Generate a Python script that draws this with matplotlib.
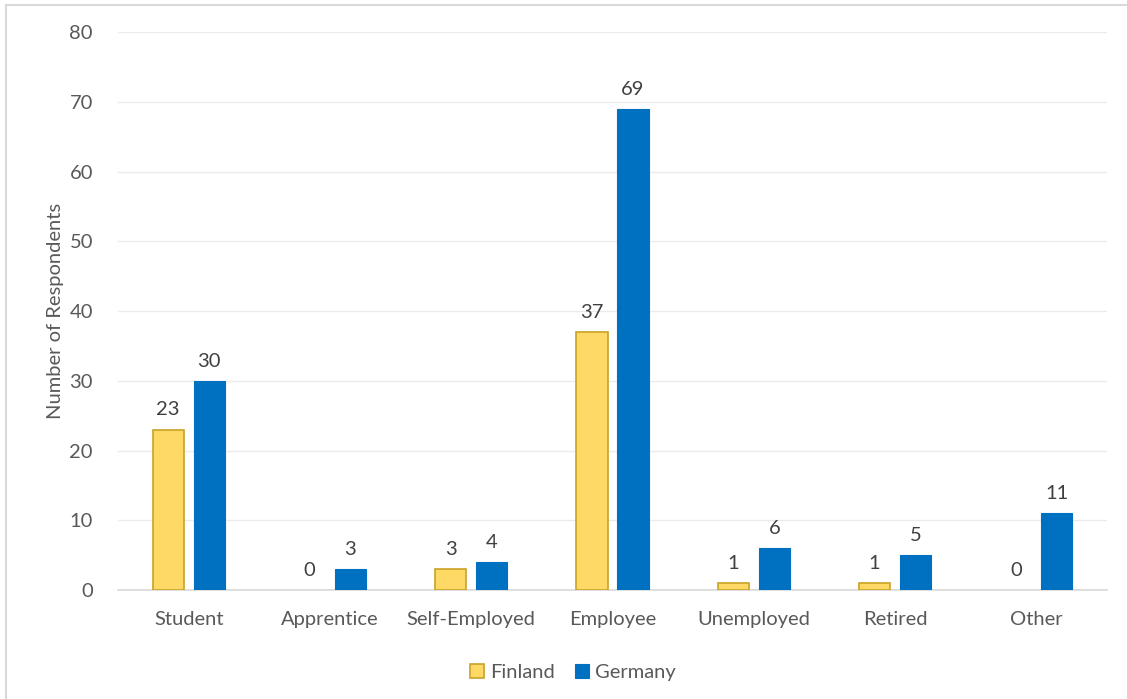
import numpy as np
import matplotlib

matplotlib.use('Agg')
import matplotlib.pyplot as plt
from matplotlib.lines import Line2D

# Respondents by occupation
categories = ['Student', 'Apprentice', 'Self-Employed', 'Employee',
              'Unemployed', 'Retired', 'Other']
finland = [23, 0, 3, 37, 1, 1, 0]
germany = [30, 3, 4, 69, 6, 5, 11]

plt.rcParams['font.family'] = ['Lato', 'DejaVu Sans']
text_color = '#595959'
fs = 14.5

fig = plt.figure(figsize=(11.27, 6.99), dpi=100)
ax = fig.add_axes([0.1047, 0.156, 0.8776, 0.798])

x = np.arange(len(categories))
width = 0.22
offset = 0.145

# zero-height bars get no outline so they don't leave a stray line
fi_edges = [1.2 if v > 0 else 0 for v in finland]
bars_fi = ax.bar(x - offset, finland, width, color='#FFD966',
                 edgecolor='#C9A227', linewidth=fi_edges, label='Finland', zorder=3)
bars_de = ax.bar(x + offset, germany, width, color='#0070C0',
                 edgecolor='#0070C0', linewidth=0.8, label='Germany', zorder=3)

for bars, vals in ((bars_fi, finland), (bars_de, germany)):
    for b, v in zip(bars, vals):
        ax.annotate(str(v), (b.get_x() + b.get_width() / 2, v),
                    xytext=(0, 8), textcoords='offset points',
                    ha='center', va='bottom', fontsize=fs, color='#404040')

ax.set_xlim(-0.5, len(categories) - 0.5)
ax.set_ylim(0, 80)
ax.set_yticks(range(0, 81, 10))
ax.set_xticks(x)
ax.set_xticklabels(categories)
ax.tick_params(axis='both', length=0, labelsize=fs, labelcolor=text_color)
ax.tick_params(axis='x', pad=15)
ax.tick_params(axis='y', pad=18)

ax.grid(axis='y', color='#EBEBEB', linewidth=1.0, zorder=0)
for side in ('top', 'right', 'left'):
    ax.spines[side].set_visible(False)
ax.spines['bottom'].set_color('#D9D9D9')
ax.spines['bottom'].set_linewidth(1.2)

ax.set_ylabel('Number of Respondents', fontsize=fs, color=text_color,
              labelpad=4)

leg = ax.legend(loc='upper center', bbox_to_anchor=(0.46, -0.1), ncol=2,
                frameon=False, fontsize=fs, handlelength=0.7,
                handleheight=0.7, handletextpad=0.3, columnspacing=1.0)
for t in leg.get_texts():
    t.set_color(text_color)

# chart area border
fig.add_artist(Line2D([6 / 1127, 1], [1 - 5 / 699, 1 - 5 / 699],
                      transform=fig.transFigure, color='#D9D9D9', linewidth=1.5))
fig.add_artist(Line2D([6 / 1127, 6 / 1127], [0, 1 - 5 / 699],
                      transform=fig.transFigure, color='#D9D9D9', linewidth=1.5))

fig.savefig('out.png', dpi=100)
